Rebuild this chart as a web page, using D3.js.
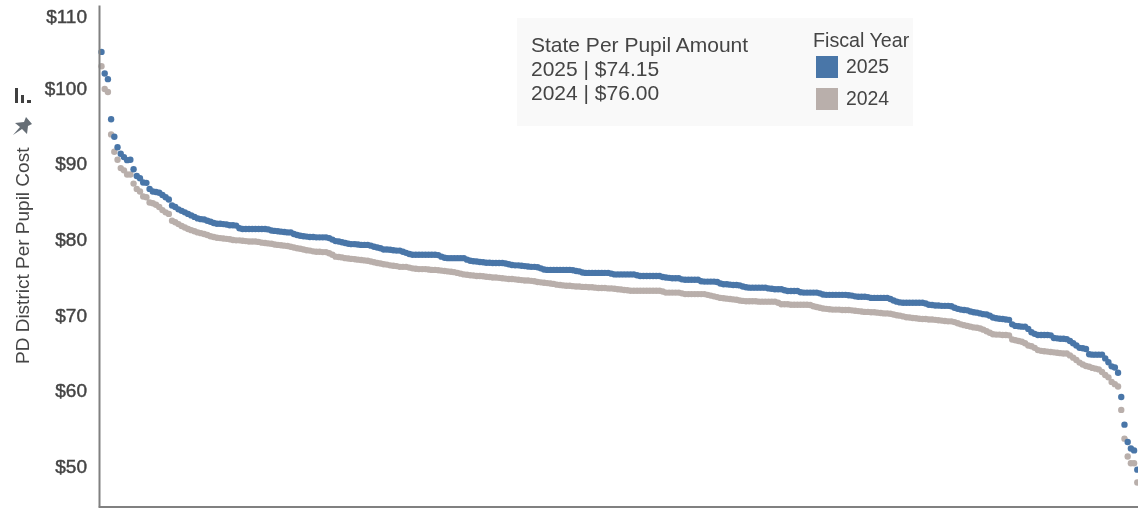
<!DOCTYPE html>
<html lang="en">
<head>
<meta charset="UTF-8">
<title>PD District Per Pupil Cost</title>
<script src="https://d3js.org/d3.v7.min.js"></script>
<style>
  html, body { margin: 0; padding: 0; background: #fff; overflow: hidden; }
  svg { display: block; }
  text { font-family: "Liberation Sans", Arial, sans-serif; fill: #444; }
</style>
</head>
<body>
<script>
var yTicks = [50, 60, 70, 80, 90, 100, 110];
var fiscalYears = ["2025", "2024"];
var stateAmounts = [74.15, 76.00];

// one dot per district, sorted by the 2025 cost
var cost2025 = [
  104.9,102.05,101.3,96.0,93.7,92.3,91.45,91.0,90.6,90.65,
  89.4,88.5,88.2,87.65,87.6,86.8,86.45,86.4,86.3,86.0,
  85.7,85.4,84.6,84.4,84.1,83.9,83.7,83.5,83.3,83.1,
  82.9,82.8,82.75,82.6,82.45,82.3,82.2,82.2,82.15,82.1,
  82.0,82.0,81.95,81.6,81.5,81.5,81.5,81.5,81.5,81.5,
  81.5,81.5,81.45,81.3,81.25,81.2,81.15,81.1,81.05,81.05,
  80.85,80.7,80.6,80.55,80.5,80.45,80.45,80.4,80.4,80.4,
  80.4,80.3,80.1,79.9,79.85,79.75,79.65,79.55,79.5,79.5,
  79.45,79.4,79.4,79.4,79.3,79.15,79.05,78.95,78.8,78.8,
  78.75,78.7,78.65,78.65,78.5,78.35,78.2,78.1,78.1,78.1,
  78.1,78.1,78.1,78.1,78.1,78.05,77.85,77.7,77.65,77.65,
  77.65,77.65,77.65,77.65,77.45,77.3,77.25,77.2,77.15,77.1,
  77.05,77.05,77.0,77.0,77.0,77.0,76.95,76.85,76.75,76.7,
  76.7,76.65,76.6,76.55,76.5,76.5,76.45,76.3,76.15,76.1,
  76.1,76.1,76.1,76.1,76.1,76.1,76.1,76.05,75.95,75.9,
  75.75,75.7,75.7,75.7,75.7,75.7,75.7,75.7,75.7,75.6,
  75.5,75.5,75.5,75.5,75.5,75.5,75.5,75.4,75.3,75.3,
  75.3,75.3,75.3,75.3,75.3,75.15,75.1,75.05,75.0,75.0,
  75.0,74.85,74.8,74.8,74.8,74.8,74.8,74.6,74.55,74.55,
  74.55,74.55,74.5,74.3,74.2,74.2,74.15,74.1,74.1,74.05,
  73.9,73.8,73.75,73.75,73.75,73.75,73.75,73.75,73.65,73.6,
  73.55,73.55,73.55,73.4,73.3,73.3,73.3,73.3,73.15,73.1,
  73.1,73.1,73.1,73.1,73.0,72.85,72.8,72.8,72.8,72.8,
  72.8,72.8,72.8,72.75,72.7,72.6,72.55,72.55,72.55,72.5,
  72.4,72.4,72.4,72.4,72.4,72.4,72.25,72.05,71.9,71.8,
  71.75,71.75,71.75,71.75,71.75,71.75,71.75,71.65,71.5,71.45,
  71.4,71.4,71.35,71.35,71.35,71.3,71.1,70.95,70.85,70.8,
  70.75,70.6,70.5,70.45,70.35,70.25,70.2,70.05,69.8,69.7,
  69.65,69.6,69.55,69.5,68.9,68.7,68.65,68.6,68.6,68.3,
  67.85,67.65,67.5,67.5,67.5,67.5,67.45,67.1,67.05,67.0,
  67.0,66.95,66.7,66.4,66.1,65.8,65.75,65.65,64.95,64.9,
  64.9,64.9,64.9,64.4,63.9,63.35,63.2,62.5,59.3,55.65,
  53.35,52.5,52.25,49.7
];
var cost2024 = [
  103.0,100.0,99.6,94.0,91.7,90.65,89.55,89.25,88.7,88.7,
  87.5,86.8,86.45,85.8,85.7,85.0,84.9,84.7,84.4,84.0,
  83.7,83.5,82.6,82.4,82.15,81.9,81.7,81.5,81.35,81.2,
  81.05,80.95,80.85,80.7,80.55,80.45,80.35,80.3,80.25,80.2,
  80.15,80.05,80.0,80.0,79.95,79.9,79.85,79.85,79.85,79.8,
  79.7,79.65,79.6,79.55,79.45,79.4,79.35,79.3,79.25,79.15,
  79.05,78.95,78.9,78.8,78.7,78.65,78.55,78.5,78.5,78.45,
  78.45,78.3,78.1,77.85,77.8,77.75,77.65,77.6,77.55,77.5,
  77.45,77.4,77.35,77.3,77.2,77.1,77.0,76.95,76.85,76.8,
  76.7,76.65,76.6,76.5,76.5,76.5,76.4,76.3,76.25,76.2,
  76.2,76.2,76.15,76.1,76.1,76.05,76.0,75.95,75.9,75.85,
  75.8,75.7,75.6,75.5,75.45,75.4,75.35,75.3,75.3,75.25,
  75.2,75.15,75.1,75.1,75.05,75.0,74.95,74.9,74.9,74.85,
  74.8,74.75,74.7,74.7,74.65,74.6,74.5,74.45,74.4,74.35,
  74.3,74.25,74.15,74.1,74.05,74.0,74.0,73.95,73.9,73.9,
  73.85,73.85,73.8,73.8,73.75,73.7,73.7,73.7,73.65,73.65,
  73.6,73.55,73.5,73.45,73.4,73.35,73.35,73.35,73.35,73.35,
  73.35,73.35,73.35,73.35,73.35,73.25,73.1,73.1,73.1,73.1,
  73.1,73.0,72.9,72.9,72.9,72.9,72.9,72.9,72.9,72.8,
  72.7,72.6,72.5,72.4,72.35,72.3,72.25,72.2,72.15,72.05,
  72.0,71.95,71.95,71.95,71.95,71.9,71.9,71.9,71.9,71.9,
  71.9,71.75,71.55,71.55,71.55,71.5,71.5,71.5,71.5,71.5,
  71.5,71.45,71.3,71.2,71.1,71.0,70.95,70.9,70.85,70.85,
  70.85,70.8,70.8,70.8,70.75,70.7,70.65,70.6,70.55,70.55,
  70.5,70.5,70.45,70.4,70.35,70.35,70.3,70.2,70.1,70.05,
  69.95,69.85,69.8,69.75,69.7,69.65,69.6,69.6,69.55,69.55,
  69.5,69.45,69.4,69.35,69.3,69.3,69.2,69.05,68.9,68.8,
  68.7,68.6,68.5,68.45,68.35,68.2,68.0,67.8,67.6,67.55,
  67.55,67.5,67.5,67.45,66.9,66.8,66.7,66.6,66.4,66.1,
  66.0,65.8,65.5,65.4,65.35,65.3,65.25,65.2,65.15,65.1,
  65.05,65.05,64.8,64.5,64.2,63.85,63.6,63.4,63.3,63.15,
  63.05,62.95,62.6,62.2,61.9,61.3,61.0,60.7,57.6,53.8,
  51.45,50.55,50.55,48.0
];

var width = 1138, height = 510;
var colors = { "2025": "#4a76a8", "2024": "#b9afab" };

var svg = d3.select("body").append("svg")
  .attr("width", width)
  .attr("height", height);

// the reference is a soft screenshot
var blur = svg.append("defs").append("filter").attr("id", "soft");
blur.append("feGaussianBlur").attr("stdDeviation", 0.45);

var root = svg.append("g").attr("filter", "url(#soft)");

var x = d3.scaleLinear().domain([0, cost2025.length - 1]).range([101.5, 1137.3]);
var y = d3.scaleLinear().domain([44.9, 111.1]).range([506, 5]);

// legend panel
var panel = root.append("g");
panel.append("rect")
  .attr("x", 517).attr("y", 18)
  .attr("width", 396).attr("height", 108)
  .attr("fill", "#f9f9f9");

var infoLines = ["State Per Pupil Amount"].concat(fiscalYears.map(function(d, i) {
  return d + " | $" + stateAmounts[i].toFixed(2);
}));
panel.selectAll(".info").data(infoLines).enter().append("text")
  .attr("class", "info")
  .attr("x", 531)
  .attr("y", function(d, i) { return 52 + i * 24.2; })
  .style("font-size", "21px")
  .text(function(d) { return d; });

panel.append("text")
  .attr("x", 813).attr("y", 47)
  .style("font-size", "19.7px")
  .text("Fiscal Year");

var legendRows = panel.selectAll(".row").data(fiscalYears).enter().append("g")
  .attr("class", "row")
  .attr("transform", function(d, i) { return "translate(816," + (56 + i * 32) + ")"; });
legendRows.append("rect")
  .attr("width", 22).attr("height", 22)
  .attr("fill", function(d) { return colors[d]; });
legendRows.append("text")
  .attr("x", 30).attr("y", 17)
  .style("font-size", "19.4px")
  .text(function(d) { return d; });

// dots, 2024 underneath
[["2024", cost2024], ["2025", cost2025]].forEach(function(s) {
  root.append("g").selectAll("circle").data(s[1]).enter().append("circle")
    .attr("cx", function(d, i) { return x(i); })
    .attr("cy", function(d) { return y(d); })
    .attr("r", 3.2)
    .attr("fill", colors[s[0]]);
});

// axes
var yAxis = d3.axisLeft(y)
  .tickValues(yTicks)
  .tickSize(0)
  .tickPadding(12)
  .tickFormat(function(d) { return "$" + d; });
var yg = root.append("g")
  .attr("transform", "translate(99,0)")
  .call(yAxis);
yg.select(".domain").attr("stroke", "#808080").attr("stroke-width", 2);
yg.selectAll("text")
  .attr("y", -1)
  .style("font-size", "19px")
  .style("fill", "#444")
  .style("stroke", "#444")
  .style("stroke-width", 0.45);
// top label is pushed down to stay in view
yg.selectAll(".tick").filter(function(d) { return d === 110; })
  .select("text").attr("y", 3);

var xAxis = d3.axisBottom(d3.scaleLinear().domain([0, 1]).range([98, width])).tickValues([]).tickSize(0);
var xg = root.append("g")
  .attr("transform", "translate(0,506.5)")
  .call(xAxis);
xg.select(".domain").attr("stroke", "#808080").attr("stroke-width", 2);

root.append("text")
  .attr("transform", "translate(29,364) rotate(-90)")
  .style("font-size", "19px")
  .text("PD District Per Pupil Cost");

// sort and pin icons next to the axis title
var icon = root.append("g").attr("fill", "#3f3f3f");
icon.append("rect").attr("x", 15).attr("y", 88).attr("width", 3).attr("height", 15);
icon.append("rect").attr("x", 21).attr("y", 95).attr("width", 3).attr("height", 8);
icon.append("rect").attr("x", 27).attr("y", 100).attr("width", 4).attr("height", 3);
root.append("path")
  .attr("d", "M13 135 L20 127 L15 123 L24 122 L26 117 L32 124 L28 126 L27 134 L22 129 Z")
  .attr("fill", "#666e76");
</script>
</body>
</html>
